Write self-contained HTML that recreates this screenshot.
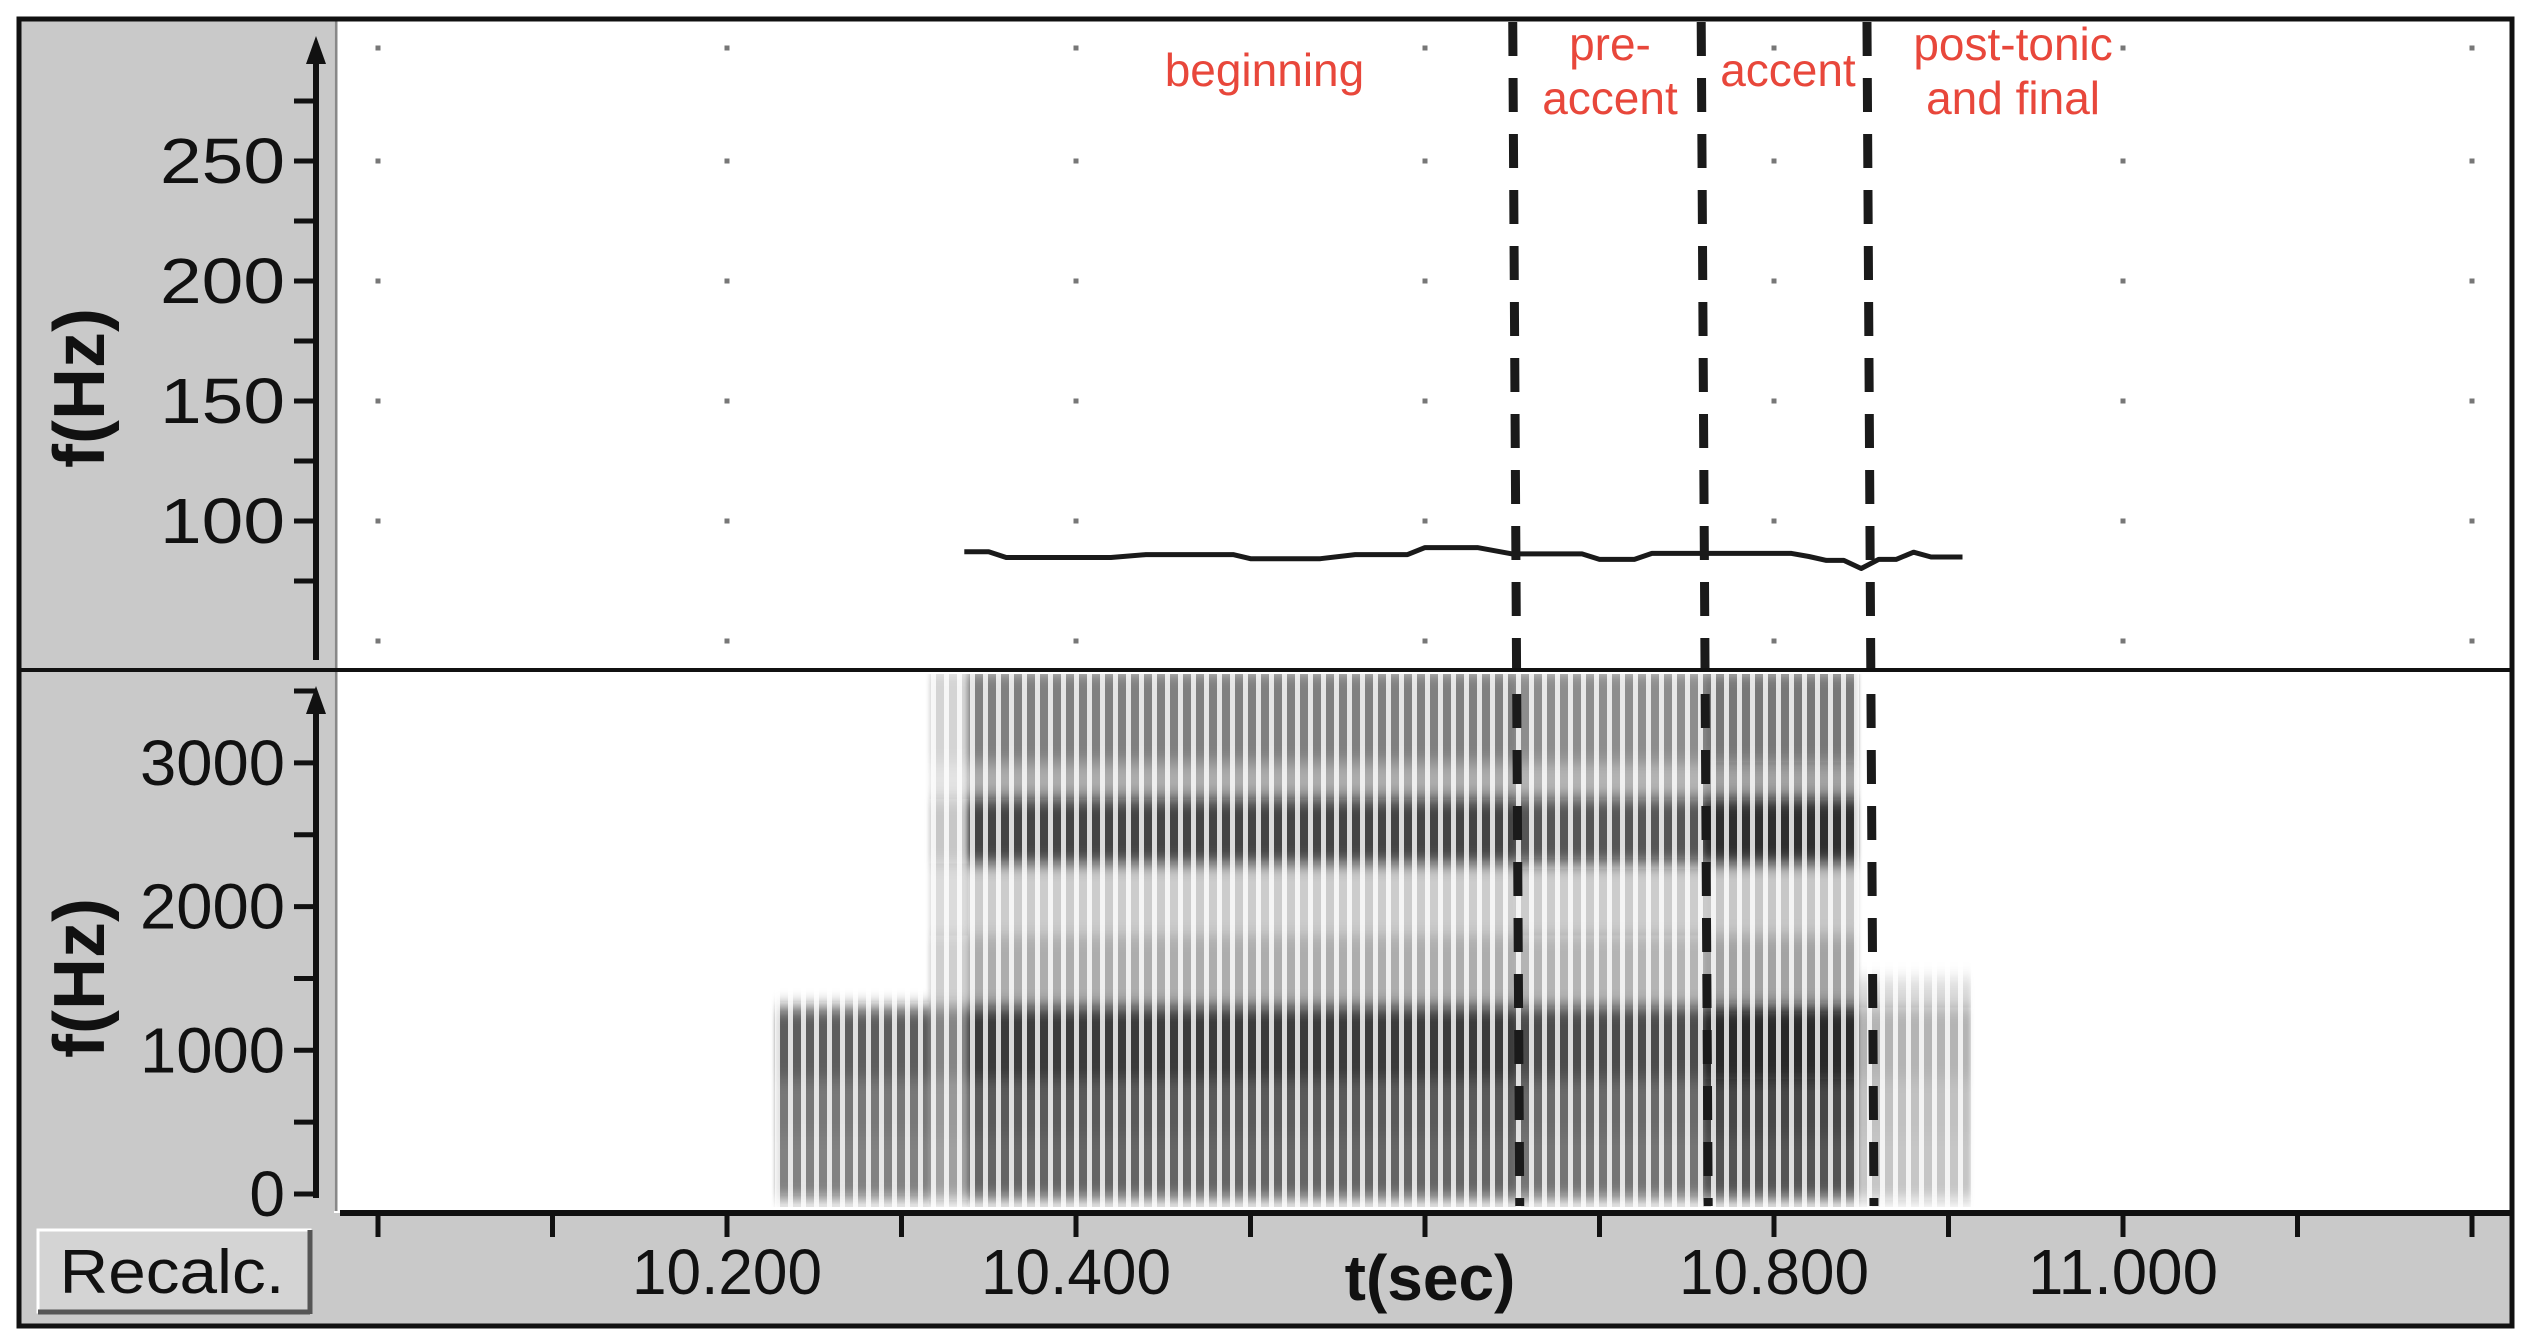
<!DOCTYPE html>
<html><head><meta charset="utf-8"><style>
html,body{margin:0;padding:0;background:#fff;}
svg{display:block;}
text{font-family:"Liberation Sans",sans-serif;}
</style></head><body>
<svg id="chart" width="2536" height="1338" viewBox="0 0 2536 1338" xmlns="http://www.w3.org/2000/svg">
<defs>
  <pattern id="stripes" patternUnits="userSpaceOnUse" width="13" height="40">
    <rect x="0" y="0" width="13" height="40" fill="#fff"/>
    <rect x="8" y="0" width="5" height="40" fill="#333"/>
  </pattern>
  <mask id="stripeMask" maskUnits="userSpaceOnUse" x="0" y="0" width="2536" height="1338">
    <rect x="0" y="0" width="2536" height="1338" fill="url(#stripes)"/>
  </mask>
  <clipPath id="upperClip"><rect x="340" y="23" width="2167" height="645"/></clipPath>
  <clipPath id="lowerClip"><rect x="340" y="674" width="2167" height="533"/></clipPath>
  <filter id="blur" x="-5%" y="-5%" width="110%" height="110%"><feGaussianBlur stdDeviation="2 8"/></filter>
</defs>
<rect x="0" y="0" width="2536" height="1338" fill="#fff"/>
<rect x="19" y="19" width="315" height="1307" fill="#c9c9c9"/>
<rect x="19" y="1213" width="2493" height="113" fill="#c9c9c9"/>
<rect x="338" y="21" width="2172" height="648" fill="#fff"/>
<rect x="338" y="673" width="2172" height="538" fill="#fff"/>
<line x1="336" y1="19" x2="336" y2="1211" stroke="#888" stroke-width="3"/>
<g id="grid"></g>
<g id="spec" clip-path="url(#lowerClip)"></g>
<g id="f0" clip-path="url(#upperClip)"></g>
<g id="axes"></g>
<g id="bounds"></g>
<g id="labels"></g>
<line x1="19" y1="670" x2="2512" y2="670" stroke="#111" stroke-width="4"/>
<rect x="19" y="19" width="2493" height="1307" fill="none" stroke="#111" stroke-width="5"/>
<g>
  <rect x="38" y="1230" width="272" height="82" fill="#d4d4d4" stroke="#fff" stroke-width="3"/>
  <line x1="38" y1="1312" x2="310" y2="1312" stroke="#555" stroke-width="5"/>
  <line x1="310" y1="1230" x2="310" y2="1314" stroke="#555" stroke-width="5"/>
  <text x="172" y="1293" font-size="62" text-anchor="middle" fill="#111" textLength="225" lengthAdjust="spacingAndGlyphs">Recalc.</text>
</g>
</svg>
<script>
// ---- data ----
const xTickValues = [10.0,10.1,10.2,10.3,10.4,10.5,10.6,10.7,10.8,10.9,11.0,11.1,11.2];
const xTickLabels = ["10.200","10.400","10.800","11.000"];
const xTickLabelValues = [10.2,10.4,10.8,11.0];
const upperTickLabels = [100,150,200,250];
const lowerTickLabels = [0,1000,2000,3000];
const f0Times = [10.336,10.350,10.360,10.420,10.440,10.490,10.500,10.540,10.560,10.590,10.600,10.630,10.650,10.690,10.700,10.720,10.730,10.810,10.820,10.830,10.840,10.850,10.860,10.870,10.880,10.890,10.908];
const f0Hz    = [87.2, 87.2, 84.8, 84.8, 86.0, 86.0, 84.3, 84.3, 86.0, 86.0, 88.9, 88.9, 86.3, 86.3, 84.0, 84.0, 86.5, 86.5, 85.2, 83.6, 83.6, 80.2, 84.0, 84.0, 87.0, 85.0, 85.0];
const boundaryTimes = [10.652,10.760,10.855];
const segLabelLines = [["beginning"],["pre-","accent"],["accent"],["post-tonic","and final"]];
const segLabelTimes = [10.508,10.706,10.808,10.937];
const specSegStart = [10.228,10.316,10.338,10.652,10.760,10.848];
const specSegEnd   = [10.316,10.338,10.652,10.760,10.848,10.913];
const specSegFmax  = [1300,3650,3650,3650,3650,1500];
const specSegAmp   = [0.75,0.55,0.9,0.82,1.0,0.35];
const bandLo    = [0,400,800,1300,1800,2300,2750,3000];
const bandHi    = [400,800,1300,1800,2300,2750,3000,3650];
const bandLevel = [0.75,0.8,0.95,0.4,0.25,0.9,0.4,0.6];
const gridFreqs = [250,200,150,100,50];

// ---- scales ----
const X = t => 378 + (t - 10) * 1745;
const YU = f => 521 - (f - 100) * 2.4;
const YL = f => 1194 - f * 0.1437;
const NS = "http://www.w3.org/2000/svg";
function mk(tag, attrs, parent){ const e=document.createElementNS(NS,tag); for(const k in attrs) e.setAttribute(k,attrs[k]); parent.appendChild(e); return e; }

// grid dots
const grid = document.getElementById('grid');
for (let i=0;i<7;i++){ const t=10+i*0.2;
  const ys = [48].concat(gridFreqs.map(YU));
  ys.forEach(y=>{
    const d = mk('rect',{x:X(t)-2.5,y:y-2.5,width:5,height:5,fill:'#777'},grid);
    
    
  });
}

// spectrogram
const spec = document.getElementById('spec');
const specInner = mk('g',{mask:'url(#stripeMask)',filter:'url(#blur)'},spec);
for (let s=0;s<specSegStart.length;s++){
  for (let b=0;b<bandLo.length;b++){
    if (bandLo[b] >= specSegFmax[s]) continue;
    let lvl = bandLevel[b]*specSegAmp[s];
    if (s===1 && b>=5) lvl *= 0.5;
    const hi = Math.min(bandHi[b], specSegFmax[s]);
    const r = mk('rect',{x:X(specSegStart[s]),y:YL(hi),width:X(specSegEnd[s])-X(specSegStart[s]),height:YL(bandLo[b])-YL(hi)+(b===0?6:0),fill:'#1a1a1a','fill-opacity':lvl.toFixed(2)},specInner);
    
    
  }
}

// f0 contour
const f0 = document.getElementById('f0');
const pl = mk('polyline',{points:f0Times.map((t,i)=>X(t).toFixed(1)+','+YU(f0Hz[i]).toFixed(1)).join(' '),fill:'none',stroke:'#1a1a1a','stroke-width':5,'stroke-linejoin':'round'},f0);



// axes
const axes = document.getElementById('axes');
mk('line',{x1:316,y1:45,x2:316,y2:660,stroke:'#111','stroke-width':6},axes);
mk('polygon',{points:'316,36 306,64 326,64',fill:'#111'},axes);
for (let f=75; f<=275; f+=25){ mk('line',{x1:294,y1:YU(f),x2:316,y2:YU(f),stroke:'#111','stroke-width':5},axes); }
upperTickLabels.forEach(v=>{ const t=mk('text',{x:285,y:YU(v)+22,'font-size':64,'text-anchor':'end',fill:'#111',textLength:v>=100?125:80,lengthAdjust:'spacingAndGlyphs'},axes); t.textContent=v;   });
mk('line',{x1:316,y1:695,x2:316,y2:1198,stroke:'#111','stroke-width':6},axes);
mk('polygon',{points:'316,686 306,714 326,714',fill:'#111'},axes);
for (let f=0; f<=3500; f+=500){ mk('line',{x1:294,y1:YL(f),x2:316,y2:YL(f),stroke:'#111','stroke-width':5},axes); }
lowerTickLabels.forEach(v=>{ const t=mk('text',{x:285,y:YL(v)+22,'font-size':64,'text-anchor':'end',fill:'#111'},axes); if(v>0){t.setAttribute('textLength',145);t.setAttribute('lengthAdjust','spacingAndGlyphs');} t.textContent=v;   });
[[388,'upper-y-axis-title'],[978,'lower-y-axis-title']].forEach(([cy,nm])=>{
  const t=mk('text',{x:0,y:0,'font-size':72,'font-weight':'bold','text-anchor':'middle',fill:'#111',textLength:160,lengthAdjust:'spacingAndGlyphs',transform:`translate(104,${cy}) rotate(-90)`},axes); t.textContent='f(Hz)';
   
});
mk('line',{x1:340,y1:1213,x2:2512,y2:1213,stroke:'#111','stroke-width':6},axes);
xTickValues.forEach(v=>{ mk('line',{x1:X(v),y1:1213,x2:X(v),y2:1237,stroke:'#111','stroke-width':5},axes); });
xTickLabels.forEach((s,i)=>{ const t=mk('text',{x:X(xTickLabelValues[i]),y:1294,'font-size':64,'text-anchor':'middle',fill:'#111',textLength:190,lengthAdjust:'spacingAndGlyphs'},axes); t.textContent=s;   });
const xt=mk('text',{x:1430,y:1300,'font-size':64,'font-weight':'bold','text-anchor':'middle',fill:'#111'},axes); xt.textContent='t(sec)';
 

// boundaries
const bounds = document.getElementById('bounds');
boundaryTimes.forEach(t=>{ const l=mk('line',{x1:X(t)-3,y1:22,x2:X(t)+4,y2:1206,stroke:'#1a1a1a','stroke-width':9,'stroke-dasharray':'34 22'},bounds);
    });

// labels
const labels = document.getElementById('labels');
segLabelLines.forEach((lines,i)=>{
  const n=lines.length; const y0 = n===1 ? 86 : 60;
  lines.forEach((s,k)=>{ const t=mk('text',{x:X(segLabelTimes[i]),y:y0+k*54,'font-size':46,'text-anchor':'middle',fill:'#e8473b'},labels); t.textContent=s;
      });
});
</script>
</body></html>
